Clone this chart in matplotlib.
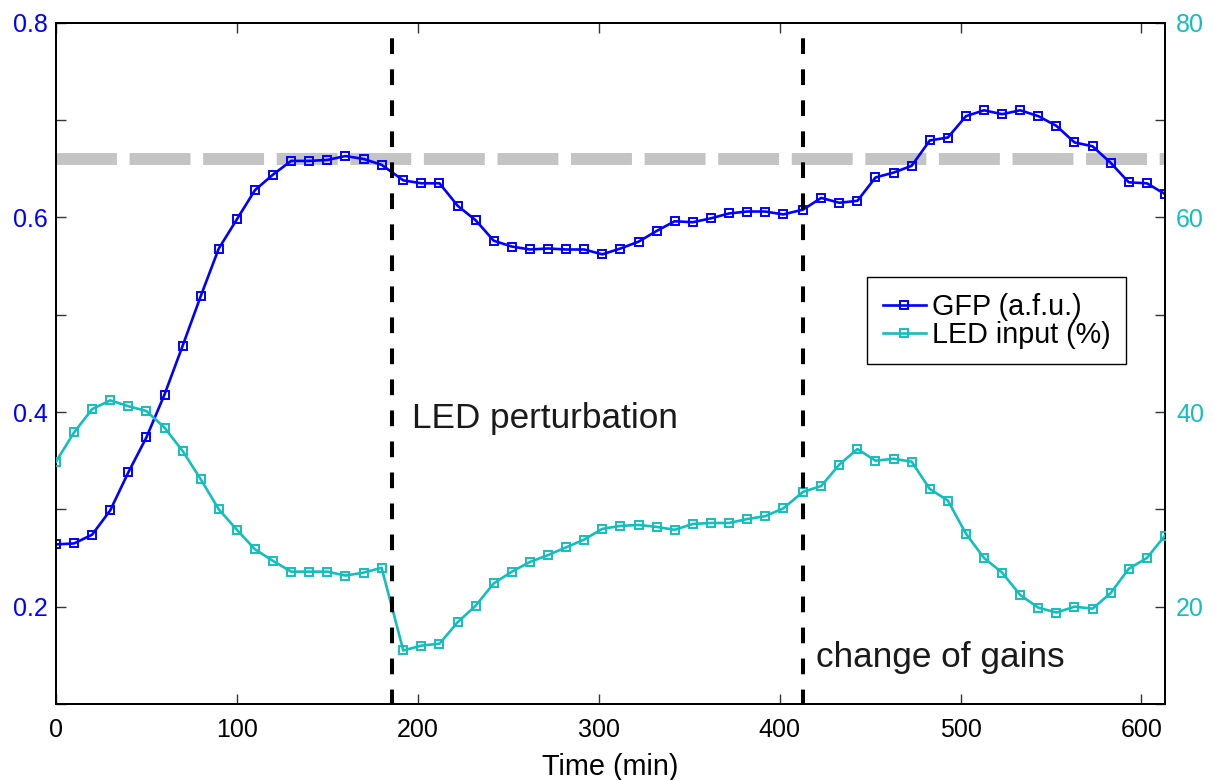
import matplotlib
matplotlib.use("Agg")
import matplotlib.pyplot as plt
from matplotlib.ticker import MultipleLocator

# sample times (min) - note the two uneven steps at the events
time_min = [0, 10, 20, 30, 40, 50, 60, 70, 80, 90, 100, 110, 120, 130, 140, 150, 160, 170, 180,
            192, 202, 212, 222, 232, 242, 252, 262, 272, 282, 292, 302, 312, 322, 332, 342, 352,
            362, 372, 382, 392, 402,
            413, 423, 433, 443, 453, 463, 473, 483, 493, 503, 513, 523, 533, 543, 553, 563, 573,
            583, 593, 603, 613]

# GFP (a.f.u.), left axis
gfp = [0.264, 0.265, 0.274, 0.299, 0.338, 0.374, 0.418, 0.468, 0.519, 0.568, 0.598, 0.628,
       0.644, 0.658, 0.658, 0.659, 0.663, 0.660, 0.654,
       0.638, 0.635, 0.635, 0.612, 0.597, 0.576, 0.570, 0.567, 0.568, 0.567, 0.567, 0.562,
       0.568, 0.575, 0.586, 0.596, 0.595, 0.599, 0.604, 0.606, 0.606, 0.603,
       0.608, 0.620, 0.615, 0.617, 0.641, 0.646, 0.653, 0.679, 0.682, 0.704, 0.710, 0.706,
       0.710, 0.704, 0.694, 0.677, 0.673, 0.656, 0.636, 0.635, 0.624]

# LED input (%), right axis
led = [34.9, 37.9, 40.3, 41.2, 40.6, 40.1, 38.4, 36.0, 33.1, 30.0, 27.9, 25.9, 24.7, 23.6,
       23.6, 23.6, 23.2, 23.5, 24.0,
       15.5, 16.0, 16.2, 18.4, 20.1, 22.4, 23.6, 24.6, 25.3, 26.1, 26.9, 28.0, 28.3, 28.4,
       28.2, 27.9, 28.5, 28.6, 28.6, 29.0, 29.3, 30.1,
       31.8, 32.4, 34.6, 36.2, 35.0, 35.2, 34.9, 32.1, 30.9, 27.5, 25.0, 23.5, 21.2, 19.9,
       19.4, 20.0, 19.8, 21.4, 23.9, 25.0, 27.3]

setpoint = 0.66
event_times = [186, 413]
event_labels = ["LED perturbation", "change of gains"]
event_label_pos = [(197, 38.4), (420, 13.8)]

plt.rcParams['font.family'] = ['Liberation Sans', 'DejaVu Sans']

blue = '#0000FF'
cyan = '#14BEBE'

fig = plt.figure(figsize=(12.14, 7.8), dpi=100)
ax = fig.add_axes([0.0461, 0.0974, 0.9135, 0.8735])
ax2 = ax.twinx()

# reference level
ax.axhline(setpoint, color='#C4C4C4', lw=8.6, linestyle=(0, (5.1, 1.06)),
           solid_capstyle='butt', dash_capstyle='butt', zorder=1)

l1, = ax.plot(time_min, gfp, color=blue, lw=1.9, marker='s', markersize=5.6,
              markerfacecolor='none', markeredgewidth=1.4, zorder=3,
              label='GFP (a.f.u.)')
l2, = ax2.plot(time_min, led, color=cyan, lw=1.9, marker='s', markersize=5.6,
               markerfacecolor='none', markeredgewidth=1.4, zorder=3,
               label='LED input (%)')

for t in event_times:
    ax2.plot([t, t], [80, 10], color='black', lw=2.9, linestyle=(3.9, (3.9, 3.8)),
             dash_capstyle='butt', zorder=5)

for txt, (tx, ty) in zip(event_labels, event_label_pos):
    ax2.text(tx, ty, txt, fontsize=25.3, color='#1a1a1a', va='baseline', ha='left', zorder=6)

ax.set_xlim(0, 613)
ax.set_ylim(0.1, 0.8)
ax2.set_ylim(10, 80)

ax.xaxis.set_major_locator(MultipleLocator(100))
ax.yaxis.set_major_locator(MultipleLocator(0.2))
ax.yaxis.set_minor_locator(MultipleLocator(0.1))
ax2.yaxis.set_major_locator(MultipleLocator(20))
ax2.yaxis.set_minor_locator(MultipleLocator(10))

ax.tick_params(axis='x', which='both', direction='in', top=True, bottom=True,
               length=7, width=1, labelsize=18, pad=10, colors='#333333', labelcolor='black')
ax.tick_params(axis='y', which='both', direction='in', left=True, right=False,
               length=7, width=1, labelsize=18, pad=6, colors='#333333', labelcolor=blue)
ax2.tick_params(axis='y', which='both', direction='in', right=True, left=False,
                length=7, width=1, labelsize=18, pad=8, colors='#333333', labelcolor=cyan)

for a in (ax, ax2):
    for s in a.spines.values():
        s.set_linewidth(1.4)
        s.set_color('black')

ax.set_xlabel('Time (min)', fontsize=20.8, labelpad=8)

leg = ax2.legend(handles=[l1, l2], loc='upper right', bbox_to_anchor=(0.965, 0.627),
                 fontsize=20.7, frameon=True, fancybox=False, framealpha=1,
                 edgecolor='black', handlelength=1.5, handletextpad=0.2,
                 labelspacing=0.0, borderpad=0.55, borderaxespad=0)
leg.get_frame().set_linewidth(1)
leg.set_zorder(10)

fig.savefig('out.png', dpi=100)
